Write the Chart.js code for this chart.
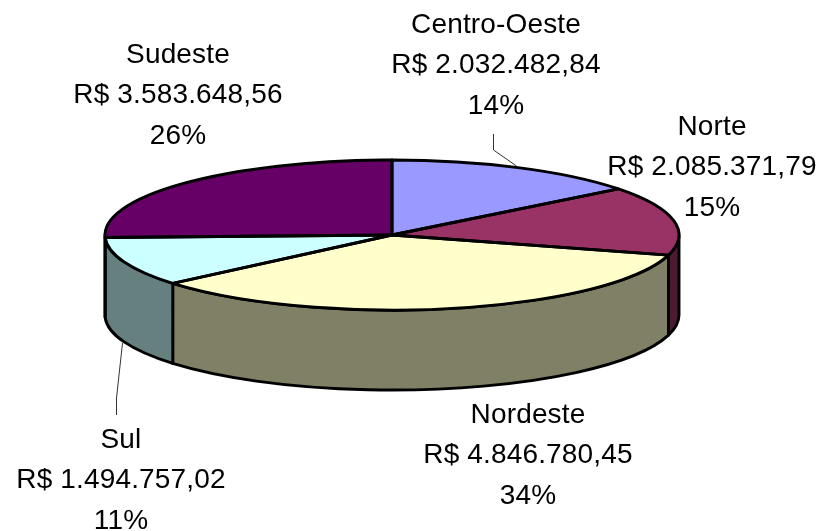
<!DOCTYPE html>
<html>
<head>
<meta charset="utf-8">
<style>html,body{margin:0;padding:0;background:#fff}canvas{display:block}</style>
<script src="https://cdn.jsdelivr.net/npm/chart.js@4"></script>
</head>
<body>
<canvas id="c" width="823" height="531"></canvas>
<script>
const categories = ["Centro-Oeste", "Norte", "Nordeste", "Sul", "Sudeste"];
const values = [2032482.84, 2085371.79, 4846780.45, 1494757.02, 3583648.56];
const valueLabels = ["R$ 2.032.482,84", "R$ 2.085.371,79", "R$ 4.846.780,45", "R$ 1.494.757,02", "R$ 3.583.648,56"];
const percentLabels = ["14%", "15%", "34%", "11%", "26%"];
const topColors = ["#9999FF", "#993366", "#FFFFCC", "#CCFFFF", "#660066"];
const sideColors = ["#4D4D80", "#4D1A33", "#808066", "#668080", "#330033"];

const SQUASH = 75 / 287, DEPTH = 80, STROKE = 2.9;
const labelLayout = [[496, 25], [712, 127], [528, 415], [121, 440], [178, 55]];
const leaderLines = [[[493, 134], [493, 150], [516, 166]], [[116, 415], [116, 398], [122, 343]]];

const pie3d = {
  id: "pie3d",
  beforeDatasetsDraw(chart) {
    const ctx = chart.ctx, arcs = chart.getDatasetMeta(0).data;
    const a0 = arcs[0], cx = a0.x, cy = a0.y, r = a0.outerRadius, ry = r * SQUASH;
    ctx.save();
    ctx.lineWidth = STROKE; ctx.strokeStyle = "#000"; ctx.lineJoin = "round";
    // side wall: the front half of each slice, from the library's arc angles
    arcs.forEach((a, i) => {
      const s = Math.max(a.startAngle, 0), e = Math.min(a.endAngle, Math.PI);
      if (e <= s) return;
      ctx.beginPath();
      ctx.ellipse(cx, cy, r, ry, 0, s, e);
      ctx.lineTo(cx + r * Math.cos(e), cy + ry * Math.sin(e) + DEPTH);
      ctx.ellipse(cx, cy + DEPTH, r, ry, 0, e, s, true);
      ctx.closePath();
      ctx.fillStyle = sideColors[i];
      ctx.fill();
      ctx.stroke();
    });
    ctx.restore();
    ctx.save();
    ctx.translate(cx, cy); ctx.scale(1, SQUASH); ctx.translate(-cx, -cy);
  },
  afterDatasetsDraw(chart) {
    const ctx = chart.ctx, arcs = chart.getDatasetMeta(0).data;
    ctx.restore();
    const a0 = arcs[0], cx = a0.x, cy = a0.y, r = a0.outerRadius, ry = r * SQUASH;
    ctx.save();
    ctx.lineWidth = STROKE; ctx.strokeStyle = "#000"; ctx.lineJoin = "round";
    arcs.forEach(a => {
      ctx.beginPath();
      ctx.moveTo(cx, cy);
      ctx.ellipse(cx, cy, r, ry, 0, a.startAngle, a.endAngle);
      ctx.closePath();
      ctx.stroke();
    });
    // leader lines
    ctx.lineWidth = 1; ctx.strokeStyle = "#333";
    leaderLines.forEach(l => {
      ctx.beginPath();
      l.forEach((p, i) => i ? ctx.lineTo(p[0] + .5, p[1]) : ctx.moveTo(p[0] + .5, p[1]));
      ctx.stroke();
    });
    // data labels
    ctx.fillStyle = "#000";
    ctx.font = '28px "Liberation Sans", Arial, sans-serif';
    ctx.letterSpacing = "0.15px";
    ctx.textAlign = "center"; ctx.textBaseline = "middle";
    categories.forEach((name, i) => {
      const [x, y] = labelLayout[i];
      [name, valueLabels[i], percentLabels[i]].forEach((t, k) => ctx.fillText(t, x, y + k * 40.5));
    });
    ctx.restore();
  }
};

new Chart(document.getElementById("c"), {
  type: "pie",
  data: {
    labels: categories,
    datasets: [{ data: values, backgroundColor: topColors, borderWidth: 0 }]
  },
  options: {
    responsive: false,
    animation: false,
    radius: 287,
    layout: { padding: { left: 0, top: 0, right: 39, bottom: 61 } },
    plugins: { legend: { display: false }, tooltip: { enabled: false } }
  },
  plugins: [pie3d]
});
</script>
</body>
</html>
